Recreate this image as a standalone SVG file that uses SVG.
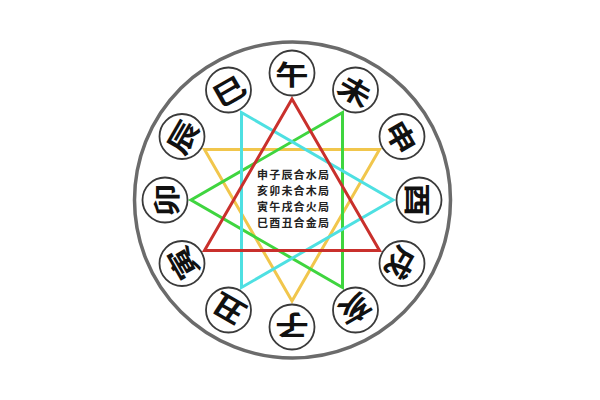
<svg xmlns="http://www.w3.org/2000/svg" width="600" height="400" viewBox="0 0 600 400">
<style>
.ring{fill:none;stroke:#6b6b6b;stroke-width:3.5}
.node circle{fill:#fff;stroke:#3a3a3a;stroke-width:1.8}
.node text{font-family:"Noto Sans CJK SC","Noto Sans CJK TC",sans-serif;font-size:29px;font-weight:bold;fill:#111;text-anchor:middle;dominant-baseline:central}
.tri{fill:none;stroke-width:3;stroke-linejoin:miter}
.red{stroke:#c9302c}
.cyan{stroke:#4ee0e2}
.yellow{stroke:#f1c64c}
.green{stroke:#3fd53f}
.label{font-family:"Noto Sans CJK SC",sans-serif;font-size:11px;letter-spacing:1.2px;font-weight:bold;fill:#222;text-anchor:middle}
</style>
<rect width="600" height="400" fill="#fff"/>
<circle class="ring" cx="292.5" cy="200" r="158"/>
<g id="connectors">
<polygon class="tri yellow" points="379.5,149.5 292,301 204.5,149.5"/>
<polygon class="tri green" points="342.5,287.5 191,200 342.5,112.5"/>
<polygon class="tri cyan" points="241.5,112.5 393,200 241.5,287.5"/>
<polygon class="tri red" points="292,99 379.5,250.5 204.5,250.5"/>
</g>
<g id="node-wu" class="node"><circle cx="292" cy="73" r="22.5"/><text transform="translate(292 73) rotate(0) scale(1.15 0.95)">午</text></g>
<g id="node-wei" class="node"><circle cx="355.5" cy="90" r="22.5"/><text transform="translate(355.5 90) rotate(30) scale(1.15 0.95)">未</text></g>
<g id="node-shen" class="node"><circle cx="402" cy="136.5" r="22.5"/><text transform="translate(402 136.5) rotate(60) scale(1.15 0.95)">申</text></g>
<g id="node-you" class="node"><circle cx="419" cy="200" r="22.5"/><text transform="translate(419 200) rotate(90) scale(1.15 0.95)">酉</text></g>
<g id="node-xu" class="node"><circle cx="402" cy="263.5" r="22.5"/><text transform="translate(402 263.5) rotate(120) scale(1.15 0.95)">戌</text></g>
<g id="node-hai" class="node"><circle cx="355.5" cy="310" r="22.5"/><text transform="translate(355.5 310) rotate(150) scale(1.15 0.95)">亥</text></g>
<g id="node-zi" class="node"><circle cx="292" cy="327" r="22.5"/><text transform="translate(292 327) rotate(180) scale(1.15 0.95)">子</text></g>
<g id="node-chou" class="node"><circle cx="228.5" cy="310" r="22.5"/><text transform="translate(228.5 310) rotate(210) scale(1.15 0.95)">丑</text></g>
<g id="node-yin" class="node"><circle cx="182" cy="263.5" r="22.5"/><text transform="translate(182 263.5) rotate(240) scale(1.15 0.95)">寅</text></g>
<g id="node-mao" class="node"><circle cx="165" cy="200" r="22.5"/><text transform="translate(165 200) rotate(270) scale(1.15 0.95)">卯</text></g>
<g id="node-chen" class="node"><circle cx="182" cy="136.5" r="22.5"/><text transform="translate(182 136.5) rotate(300) scale(1.15 0.95)">辰</text></g>
<g id="node-si" class="node"><circle cx="228.5" cy="90" r="22.5"/><text transform="translate(228.5 90) rotate(330) scale(1.15 0.95)">巳</text></g>
<g id="center-text">
<text class="label" x="293.6" y="179">申子辰合水局</text>
<text class="label" x="293.6" y="195">亥卯未合木局</text>
<text class="label" x="293.6" y="211">寅午戌合火局</text>
<text class="label" x="293.6" y="227">巳酉丑合金局</text>
</g>
</svg>
